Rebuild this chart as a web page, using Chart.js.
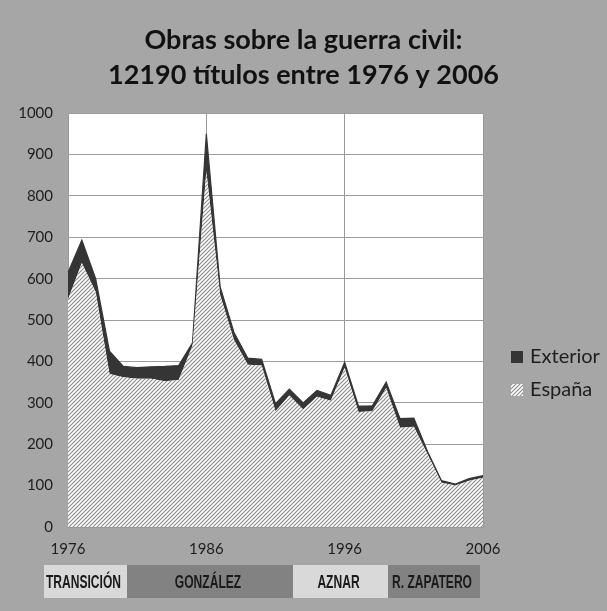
<!DOCTYPE html>
<html><head><meta charset="utf-8">
<script src="https://cdn.jsdelivr.net/npm/chart.js@4/dist/chart.umd.min.js"></script>
<style>
html,body{margin:0;padding:0;background:#a6a6a6;}
#wrap{position:relative;width:607px;height:611px;}
</style></head><body>
<div id="wrap"><canvas id="c" width="607" height="611"></canvas></div>
<script>
const years = [1976,1977,1978,1979,1980,1981,1982,1983,1984,1985,1986,1987,1988,1989,1990,1991,1992,1993,1994,1995,1996,1997,1998,1999,2000,2001,2002,2003,2004,2005,2006];
const espana = [550,638,568,370,362,358,358,352,355,438,860,560,452,392,390,280,318,284,315,305,385,278,280,336,240,242,175,107,100,112,119];
const exterior = [65,55,32,55,26,27,29,36,35,7,90,20,18,16,15,18,15,16,15,13,13,14,13,14,22,21,7,5,4,5,5];
const tickYears = [1976,1986,1996,2006];
const seriesNames = ['España','Exterior'];
const periods = ['TRANSICIÓN','GONZÁLEZ','AZNAR','R. ZAPATERO'];

const canvas = document.getElementById('c');
const ctx = canvas.getContext('2d');

function makeHatch(){
  const c = document.createElement('canvas');
  c.width = 4; c.height = 4;
  const g = c.getContext('2d');
  g.fillStyle = '#ffffff'; g.fillRect(0,0,4,4);
  g.strokeStyle = '#8c8c8c'; g.lineWidth = 1.15;
  g.beginPath();
  g.moveTo(0,4); g.lineTo(4,0);
  g.moveTo(-1,1); g.lineTo(1,-1);
  g.moveTo(3,5); g.lineTo(5,3);
  g.stroke();
  return ctx.createPattern(c,'repeat');
}
const hatch = makeHatch();
const DARK = '#353535';

const plotBg = {
  id:'plotBg',
  beforeDraw(ch){
    const a = ch.chartArea, g = ch.ctx;
    g.save(); g.fillStyle = '#ffffff';
    g.fillRect(a.left, a.top, a.width, a.height);
    g.restore();
  }
};

const extras = {
  id:'extras',
  afterDraw(ch){
    const g = ch.ctx;
    g.save();
    // legend
    const items = [
      {name: seriesNames[1], fill: DARK, y: 351},
      {name: seriesNames[0], fill: hatch, y: 384}
    ];
    g.font = '20px Lato';
    g.textBaseline = 'middle';
    g.textAlign = 'left';
    items.forEach(it => {
      g.fillStyle = it.fill;
      g.fillRect(511, it.y, 12, 12);
      g.fillStyle = '#1e1e1e';
      g.fillText(it.name, 530, it.y + 6);
    });
    // period band
    const edges = [44,127,293,388,480];
    const cols = ['#d9d9d9','#828282','#d9d9d9','#828282'];
    periods.forEach((p,i) => {
      g.fillStyle = cols[i];
      g.fillRect(edges[i], 565, edges[i+1]-edges[i], 33);
      g.save();
      const cx = (edges[i]+edges[i+1])/2 - 2;
      g.translate(cx, 583);
      g.scale(0.67, 1);
      g.fillStyle = '#1a1a1a';
      g.font = 'bold 18px "Liberation Sans", Arial, sans-serif';
      g.textAlign = 'center';
      g.textBaseline = 'middle';
      g.fillText(p, 0, 0);
      g.restore();
    });
    g.restore();
  }
};

new Chart(ctx, {
  type: 'line',
  data: {
    labels: years,
    datasets: [
      {label: seriesNames[0], data: espana, fill: 'origin', backgroundColor: hatch, borderWidth: 0, pointRadius: 0, tension: 0},
      {label: seriesNames[1], data: exterior, fill: '-1', backgroundColor: DARK, borderColor: DARK, borderWidth: 1.2, pointRadius: 0, tension: 0}
    ]
  },
  options: {
    responsive: false, animation: false, devicePixelRatio: 1,
    layout: {padding: 0},
    plugins: {
      legend: {display: false},
      tooltip: {enabled: false},
      title: {
        display: true,
        text: ['Obras sobre la guerra civil:', '12190 títulos entre 1976 y 2006'],
        color: '#111111',
        font: {family: 'Lato', size: 27, weight: 'bold', lineHeight: 1.3},
        padding: {top: 23, bottom: 20}
      }
    },
    scales: {
      x: {
        type: 'category',
        offset: false,
        afterFit: s => { s.height = 84; },
        border: {display: true, color: '#999999'},
        grid: {
          drawTicks: false,
          color: c => (tickYears.includes(years[c.index]) ? '#999999' : 'rgba(0,0,0,0)'),
          lineWidth: 1
        },
        ticks: {
          autoSkip: false, maxRotation: 0, padding: 13,
          color: '#1e1e1e', font: {family: 'Lato', size: 15},
          callback: (v, i) => (tickYears.includes(years[i]) ? String(years[i]) : '')
        }
      },
      y: {
        stacked: true, min: 0, max: 1000,
        afterFit: s => { s.width = 68; },
        border: {display: true, color: '#999999'},
        grid: {drawTicks: false, color: '#9c9c9c', lineWidth: 1},
        ticks: {stepSize: 100, padding: 15, color: '#1e1e1e', font: {family: 'Lato', size: 15},
          callback: v => String(v)}
      },
      yR: {
        position: 'right', type: 'linear', min: 0, max: 1,
        afterFit: s => { s.width = 124; },
        border: {display: false}, grid: {display: false}, ticks: {display: false}
      }
    }
  },
  plugins: [plotBg, extras]
});
</script>
</body></html>
